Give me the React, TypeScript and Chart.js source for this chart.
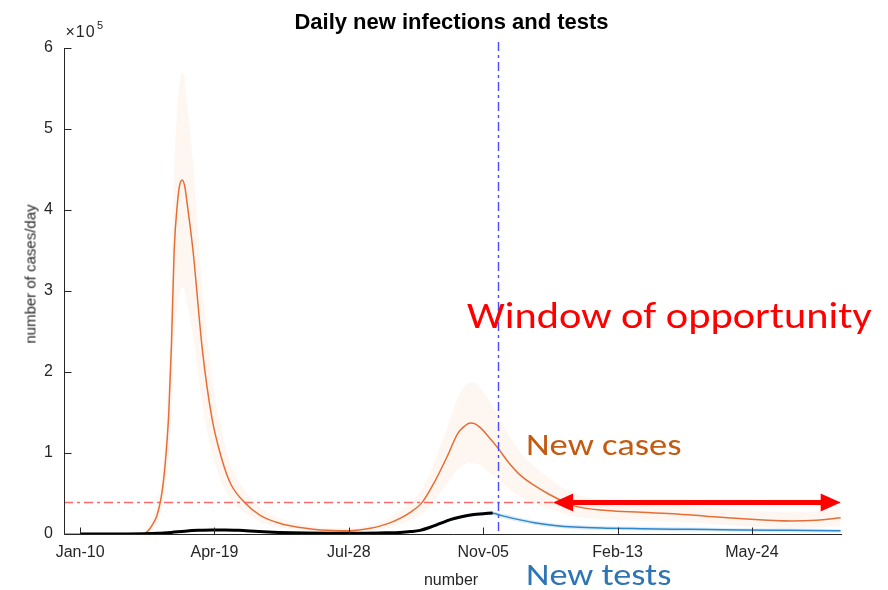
import React, { useEffect, useRef } from 'react';
import { Chart, registerables } from 'chart.js';

Chart.register(...registerables);

// values are in units of 1e5 cases/day; x is the day number
const caseDays = [0, 58, 62, 66, 69, 72, 74, 76, 78, 80, 82, 84.5, 86, 88, 90, 91.5, 96, 103, 110, 117, 124, 135, 146, 161, 176, 191, 212, 228, 243, 258, 267, 276, 285, 293, 298, 302, 306, 310, 315, 323, 331, 340, 350, 360, 379, 404, 430, 453, 478, 503, 541, 560, 578];
const caseMean = [0, 0, 0.03, 0.12, 0.22, 0.42, 0.65, 1.0, 1.5, 2.35, 3.5, 4.1, 4.3, 4.37, 4.28, 4.1, 3.5, 2.27, 1.44, 0.95, 0.62, 0.38, 0.23, 0.13, 0.08, 0.05, 0.04, 0.07, 0.14, 0.27, 0.4, 0.65, 0.95, 1.24, 1.33, 1.37, 1.36, 1.31, 1.22, 1.06, 0.88, 0.72, 0.6, 0.5, 0.35, 0.29, 0.27, 0.25, 0.22, 0.19, 0.16, 0.17, 0.2];
const caseUpper = [0, 0.01, 0.06, 0.2, 0.35, 0.62, 0.92, 1.4, 2.1, 3.2, 4.5, 5.3, 5.58, 5.7, 5.6, 5.35, 4.6, 3.05, 1.95, 1.3, 0.86, 0.53, 0.33, 0.19, 0.12, 0.08, 0.07, 0.11, 0.21, 0.39, 0.57, 0.9, 1.3, 1.68, 1.82, 1.87, 1.86, 1.8, 1.68, 1.47, 1.22, 1.0, 0.84, 0.7, 0.5, 0.42, 0.39, 0.36, 0.33, 0.3, 0.27, 0.28, 0.31];
const caseLower = [0, 0, 0.01, 0.06, 0.12, 0.25, 0.4, 0.62, 0.95, 1.5, 2.35, 2.82, 2.98, 3.05, 2.98, 2.85, 2.45, 1.6, 1.0, 0.65, 0.42, 0.26, 0.15, 0.08, 0.05, 0.03, 0.02, 0.04, 0.08, 0.17, 0.26, 0.42, 0.62, 0.8, 0.86, 0.88, 0.87, 0.85, 0.78, 0.68, 0.56, 0.46, 0.38, 0.32, 0.22, 0.18, 0.16, 0.15, 0.13, 0.1, 0.07, 0.08, 0.1];

const observedDays = [12, 40, 60, 70, 80, 90, 100, 110, 120, 130, 145, 160, 180, 200, 220, 240, 250, 258, 265, 272, 280, 288, 295, 305, 312, 319];
const observedTests = [0, 0, 0.002, 0.008, 0.02, 0.035, 0.045, 0.05, 0.05, 0.045, 0.03, 0.02, 0.012, 0.01, 0.01, 0.015, 0.02, 0.03, 0.045, 0.08, 0.13, 0.18, 0.21, 0.24, 0.25, 0.26];

const testDays = [250, 265, 280, 295, 305, 312, 319, 325, 335, 350, 365, 380, 404, 430, 453, 480, 503, 540, 578];
const testMean = [0.02, 0.045, 0.13, 0.21, 0.24, 0.25, 0.255, 0.23, 0.19, 0.14, 0.105, 0.085, 0.072, 0.065, 0.06, 0.055, 0.05, 0.045, 0.04];
const testUpper = [0.03, 0.06, 0.15, 0.23, 0.26, 0.27, 0.275, 0.255, 0.215, 0.165, 0.13, 0.11, 0.095, 0.088, 0.082, 0.077, 0.072, 0.067, 0.062];
const testLower = [0.01, 0.03, 0.11, 0.19, 0.22, 0.23, 0.235, 0.205, 0.165, 0.115, 0.08, 0.06, 0.05, 0.043, 0.038, 0.033, 0.028, 0.023, 0.018];

const xTickValues = [12, 112, 212, 312, 412, 512];
const xTickLabels = ['Jan-10', 'Apr-19', 'Jul-28', 'Nov-05', 'Feb-13', 'May-24'];
const yTickValues = [0, 1, 2, 3, 4, 5, 6];

const thresholdValue = 0.4;
const interventionDay = 323;
const windowStartDay = 364;
const windowEndDay = 578;

const pts = (xs: number[], ys: number[]) => xs.map((x, i) => ({ x, y: ys[i] }));

const overlayPlugin = {
  id: 'overlay',
  afterDatasetsDraw(chart: any) {
    const { ctx, chartArea: a, scales } = chart;
    const x = scales.x;
    const y = scales.y;
    ctx.save();
    // threshold dash-dot line
    const yt = Math.round(y.getPixelForValue(thresholdValue)) + 0.5;
    ctx.strokeStyle = 'rgba(255,80,80,0.85)';
    ctx.lineWidth = 1.4;
    ctx.setLineDash([9, 4, 3, 4]);
    ctx.beginPath();
    ctx.moveTo(a.left, yt);
    ctx.lineTo(a.right, yt);
    ctx.stroke();
    // vertical dash-dot line
    const xv = Math.round(x.getPixelForValue(interventionDay)) + 0.5;
    ctx.strokeStyle = '#4b4bff';
    ctx.beginPath();
    ctx.moveTo(xv, a.top - 6);
    ctx.lineTo(xv, a.bottom);
    ctx.stroke();
    ctx.setLineDash([]);
    // double arrow
    const x1 = x.getPixelForValue(windowStartDay);
    const x2 = x.getPixelForValue(windowEndDay);
    const head = 20;
    const hh = 9;
    ctx.strokeStyle = '#ff0000';
    ctx.fillStyle = '#ff0000';
    ctx.lineWidth = 5;
    ctx.beginPath();
    ctx.moveTo(x1 + head - 2, yt);
    ctx.lineTo(x2 - head + 2, yt);
    ctx.stroke();
    ctx.beginPath();
    ctx.moveTo(x1, yt);
    ctx.lineTo(x1 + head, yt - hh);
    ctx.lineTo(x1 + head, yt + hh);
    ctx.closePath();
    ctx.fill();
    ctx.beginPath();
    ctx.moveTo(x2, yt);
    ctx.lineTo(x2 - head, yt - hh);
    ctx.lineTo(x2 - head, yt + hh);
    ctx.closePath();
    ctx.fill();
    // axes
    ctx.strokeStyle = '#262626';
    ctx.lineWidth = 1;
    const l = Math.round(a.left) + 0.5;
    const b = Math.round(a.bottom) + 0.5;
    ctx.beginPath();
    ctx.moveTo(l, a.top);
    ctx.lineTo(l, b);
    ctx.lineTo(a.right, b);
    for (const v of yTickValues) {
      const py = Math.round(y.getPixelForValue(v)) + 0.5;
      ctx.moveTo(l, py);
      ctx.lineTo(l + 7, py);
    }
    for (const v of xTickValues) {
      const px = Math.round(x.getPixelForValue(v)) + 0.5;
      ctx.moveTo(px, b);
      ctx.lineTo(px, b - 7);
    }
    ctx.stroke();
    ctx.restore();
  },
};

const tickFont = { family: '"Liberation Sans", Arial, sans-serif', size: 16 };

export default function App() {
  const ref = useRef<HTMLCanvasElement | null>(null);

  useEffect(() => {
    if (!ref.current) return;
    const chart = new Chart(ref.current, {
      type: 'line',
      data: {
        datasets: [
          {
            data: pts(caseDays, caseUpper),
            borderWidth: 0,
            pointRadius: 0,
            backgroundColor: 'rgba(240,150,80,0.08)',
            fill: '+1',
            cubicInterpolationMode: 'monotone',
            order: 10,
          },
          {
            data: pts(caseDays, caseLower),
            borderWidth: 0,
            pointRadius: 0,
            fill: false,
            cubicInterpolationMode: 'monotone',
            order: 10,
          },
          {
            data: pts(testDays, testUpper),
            borderWidth: 0,
            pointRadius: 0,
            backgroundColor: 'rgba(0,114,189,0.14)',
            fill: '+1',
            cubicInterpolationMode: 'monotone',
            order: 9,
          },
          {
            data: pts(testDays, testLower),
            borderWidth: 0,
            pointRadius: 0,
            fill: false,
            cubicInterpolationMode: 'monotone',
            order: 9,
          },
          {
            data: pts(caseDays, caseMean),
            borderColor: '#e66e36',
            borderWidth: 1.5,
            pointRadius: 0,
            fill: false,
            cubicInterpolationMode: 'monotone',
            order: 3,
          },
          {
            data: pts(testDays, testMean),
            borderColor: '#2f86cc',
            borderWidth: 1.5,
            pointRadius: 0,
            fill: false,
            cubicInterpolationMode: 'monotone',
            order: 4,
          },
          {
            data: pts(observedDays, observedTests),
            borderColor: '#000000',
            borderWidth: 3,
            pointRadius: 0,
            fill: false,
            cubicInterpolationMode: 'monotone',
            order: 1,
          },
        ],
      },
      options: {
        animation: false,
        responsive: false,
        maintainAspectRatio: false,
        layout: { padding: { left: 0, right: 46, top: 48, bottom: 0 } },
        plugins: {
          legend: { display: false },
          tooltip: { enabled: false },
          title: { display: false },
        },
        scales: {
          x: {
            type: 'linear',
            min: 0,
            max: 579,
            grid: { display: false, drawTicks: false },
            border: { display: false },
            afterBuildTicks: (s: any) => {
              s.ticks = xTickValues.map((v) => ({ value: v }));
            },
            afterFit: (s: any) => {
              s.height = 56;
            },
            ticks: {
              autoSkip: false,
              maxRotation: 0,
              padding: 9,
              color: '#262626',
              font: tickFont,
              callback: (v: any) => {
                const i = xTickValues.indexOf(Number(v));
                return i >= 0 ? xTickLabels[i] : '';
              },
            },
          },
          y: {
            type: 'linear',
            min: 0,
            max: 6,
            grid: { display: false, drawTicks: false },
            border: { display: false },
            afterBuildTicks: (s: any) => {
              s.ticks = yTickValues.map((v) => ({ value: v }));
            },
            afterFit: (s: any) => {
              s.width = 64;
            },
            ticks: {
              padding: 11,
              color: '#262626',
              font: tickFont,
              callback: (v: any) => String(v),
            },
          },
        },
      },
      plugins: [overlayPlugin],
    } as any);
    return () => chart.destroy();
  }, []);

  const abs = (extra: React.CSSProperties): React.CSSProperties => ({
    position: 'absolute',
    whiteSpace: 'nowrap',
    lineHeight: 1,
    margin: 0,
    ...extra,
  });
  const sans = '"Liberation Sans", Arial, sans-serif';
  const cal = 'Carlito, Lato, "Open Sans", sans-serif';

  return (
    <div style={{ position: 'fixed', left: 0, top: 0, width: 888, height: 590, background: '#fff', overflow: 'hidden' }}>
      <canvas ref={ref} width={888} height={590} style={{ position: 'absolute', left: 0, top: 0, width: 888, height: 590 }} />
      <div style={abs({ left: 451.5, top: 10.5, transform: 'translateX(-50%)', fontFamily: sans, fontWeight: 'bold', fontSize: 22, color: '#000' })}>
        Daily new infections and tests
      </div>
      <div style={abs({ left: 65.5, top: 24, fontFamily: sans, fontSize: 16, letterSpacing: 1, color: '#262626' })}>×10</div>
      <div style={abs({ left: 97, top: 20, fontFamily: sans, fontSize: 11, color: '#262626' })}>5</div>
      <div style={abs({ left: 30, top: 274, transform: 'translate(-50%, -50%) rotate(-90deg)', fontFamily: sans, fontSize: 15, color: '#262626' })}>
        number of cases/day
      </div>
      <div style={abs({ left: 451, top: 572, transform: 'translateX(-50%)', fontFamily: sans, fontSize: 16, color: '#262626' })}>number</div>
      <div style={abs({ left: 467, top: 297, transform: 'scaleX(1.13)', transformOrigin: 'left top', fontFamily: cal, fontSize: 37.5, color: '#ff0000' })}>Window of opportunity</div>
      <div style={abs({ left: 526, top: 429, transform: 'scaleX(1.18)', transformOrigin: 'left top', fontFamily: cal, fontSize: 31, color: '#c55a11' })}>New cases</div>
      <div style={abs({ left: 526, top: 558.5, transform: 'scaleX(1.17)', transformOrigin: 'left top', fontFamily: cal, fontSize: 31, color: '#2e75b6' })}>New tests</div>
    </div>
  );
}
